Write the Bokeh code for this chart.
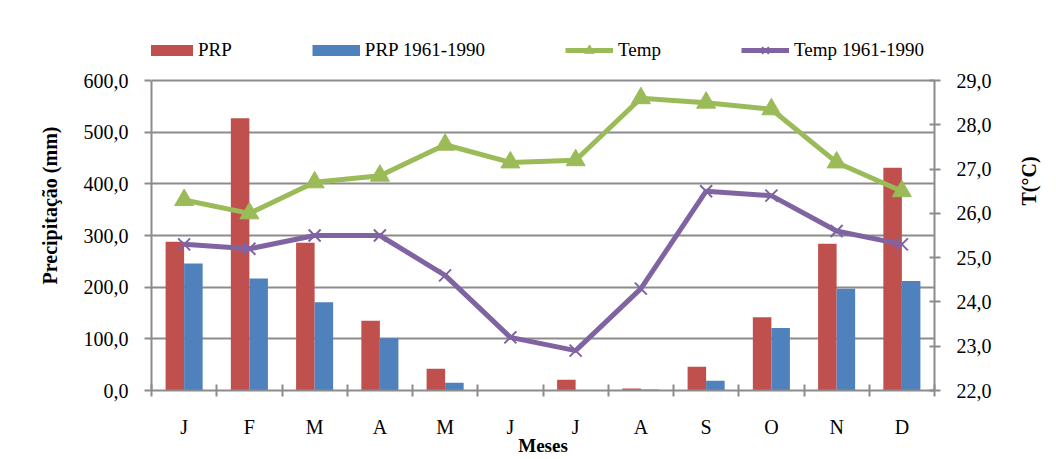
import math
from bokeh.plotting import figure
from bokeh.models import Range1d, LinearAxis, FixedTicker, Legend, LegendItem
from bokeh.embed import file_html
from bokeh.resources import INLINE

months = ["J", "F", "M", "A", "M", "J", "J", "A", "S", "O", "N", "D"]
prp = [288, 527, 286, 135, 42, 1, 21, 4, 46, 142, 284, 431]
prp_normal = [246, 217, 171, 101, 15, 1, 0, 2, 19, 121, 197, 212]
temp = [26.3, 26.0, 26.7, 26.85, 27.55, 27.15, 27.2, 28.6, 28.5, 28.35, 27.15, 26.5]
temp_normal = [25.3, 25.2, 25.5, 25.5, 24.6, 23.2, 22.9, 24.3, 26.5, 26.4, 25.6, 25.3]
prec_ticks = [0, 100, 200, 300, 400, 500, 600]
temp_ticks = [22, 23, 24, 25, 26, 27, 28, 29]

RED, BLUE, GREEN, PURPLE = "#C0504D", "#4F81BD", "#9BBB59", "#8064A2"
GRAY = "#8c8c8c"
FONT = "Liberation Serif"

n = len(months)
centers = [i + 0.5 for i in range(n)]
bw = 0.284

# layout (pixels): axes span 310 px; the frame is extended upward so the
# legend can sit inside it above the 600 gridline
W, H = 1056, 459
LEFT, RIGHT, TOP, BOTTOM = 151, 122, 20, 69
AXIS_PX = 310
frame_px = H - TOP - BOTTOM
ext = frame_px / AXIS_PX
p_lo, p_hi = prec_ticks[0], prec_ticks[-1]
t_lo, t_hi = temp_ticks[0], temp_ticks[-1]

p = figure(width=W, height=H, output_backend="svg", toolbar_location=None,
           x_range=Range1d(0, n),
           y_range=Range1d(p_lo, p_lo + (p_hi - p_lo) * ext),
           min_border_left=LEFT, min_border_right=RIGHT,
           min_border_top=TOP, min_border_bottom=BOTTOM)
p.outline_line_color = None
p.xgrid.visible = False
p.ygrid.ticker = FixedTicker(ticks=prec_ticks)
p.ygrid.grid_line_color = GRAY
p.ygrid.grid_line_width = 2

p.extra_y_ranges = {"temp": Range1d(t_lo, t_lo + (t_hi - t_lo) * ext)}

# bars
r_prp = p.vbar(x=[c - bw / 2 for c in centers], top=prp, width=bw,
               fill_color=RED, line_color=None)
r_norm = p.vbar(x=[c + bw / 2 for c in centers], top=prp_normal, width=bw,
                fill_color=BLUE, line_color=None)

# temperature lines
l_t = p.line(centers, temp, y_range_name="temp", line_color=GREEN, line_width=5)
m_t = p.scatter(centers, temp, y_range_name="temp", marker="triangle", size=19,
                fill_color=GREEN, line_color=GREEN)
l_tn = p.line(centers, temp_normal, y_range_name="temp", line_color=PURPLE, line_width=5)
m_tn = p.scatter(centers, temp_normal, y_range_name="temp", marker="x", size=17,
                 line_color=PURPLE, line_width=2)

# hidden thick-line keys, used only for the legend swatches of the bars
k_prp = p.line(centers, prp, line_color=RED, line_width=11, line_cap="butt", visible=False)
k_norm = p.line(centers, prp_normal, line_color=BLUE, line_width=11, line_cap="butt",
                visible=False)

# x axis
xa = p.xaxis[0]
xa.ticker = FixedTicker(ticks=centers, minor_ticks=list(range(n + 1)))
xa.major_label_overrides = {c: m for c, m in zip(centers, months)}
xa.major_tick_in = 0
xa.major_tick_out = 0
xa.minor_tick_in = 6
xa.minor_tick_out = 6
xa.minor_tick_line_color = GRAY
xa.minor_tick_line_width = 2
xa.axis_line_color = GRAY
xa.axis_line_width = 2
xa.major_label_standoff = 19
xa.major_label_text_font = FONT
xa.major_label_text_font_size = "20px"
xa.major_label_text_color = "black"
xa.axis_label = "Meses"
xa.axis_label_text_font = FONT
xa.axis_label_text_font_size = "19px"
xa.axis_label_text_font_style = "bold"
xa.axis_label_text_color = "black"
xa.axis_label_standoff = -6

# left axis
ya = p.yaxis[0]
ya.ticker = FixedTicker(ticks=prec_ticks)
ya.bounds = (p_lo, p_hi)
ya.major_label_overrides = {t: f"{t:.1f}".replace(".", ",") for t in prec_ticks}
ya.minor_tick_line_color = None
ya.major_tick_in = 0
ya.major_tick_out = 7
ya.major_tick_line_color = GRAY
ya.major_tick_line_width = 2
ya.axis_line_color = GRAY
ya.axis_line_width = 2
ya.major_label_standoff = 16
ya.major_label_text_font = FONT
ya.major_label_text_font_size = "20px"
ya.major_label_text_color = "black"
ya.axis_label = "Precipitação (mm)"
ya.axis_label_text_font = FONT
ya.axis_label_text_font_size = "20px"
ya.axis_label_text_font_style = "bold"
ya.axis_label_text_color = "black"
ya.axis_label_standoff = 20

# right axis
ra = LinearAxis(y_range_name="temp", ticker=FixedTicker(ticks=temp_ticks))
ra.bounds = (t_lo, t_hi)
ra.major_label_overrides = {t: f"{t:.1f}".replace(".", ",") for t in temp_ticks}
ra.minor_tick_line_color = None
ra.major_tick_in = 5
ra.major_tick_out = 6
ra.major_tick_line_color = GRAY
ra.major_tick_line_width = 2
ra.axis_line_color = GRAY
ra.axis_line_width = 2
ra.major_label_standoff = 16
ra.major_label_text_font = FONT
ra.major_label_text_font_size = "20px"
ra.major_label_text_color = "black"
ra.axis_label = "T(°C)"
ra.axis_label_orientation = math.pi / 2
ra.axis_label_text_font = FONT
ra.axis_label_text_font_size = "20px"
ra.axis_label_text_font_style = "bold"
ra.axis_label_text_color = "black"
ra.axis_label_standoff = 34
p.add_layout(ra, "right")

legend = Legend(items=[LegendItem(label="PRP", renderers=[k_prp]),
                       LegendItem(label="PRP 1961-1990", renderers=[k_norm]),
                       LegendItem(label="Temp", renderers=[l_t, m_t]),
                       LegendItem(label="Temp 1961-1990", renderers=[l_tn, m_tn])],
                location=(-6, 328), orientation="horizontal",
                glyph_width=48, glyph_height=24, label_standoff=5, spacing=80,
                label_text_font=FONT, label_text_font_size="19px",
                label_text_color="black",
                padding=0, margin=0,
                border_line_alpha=0, background_fill_alpha=0)
p.add_layout(legend)

open("out.html", "w").write(file_html(p, INLINE))
